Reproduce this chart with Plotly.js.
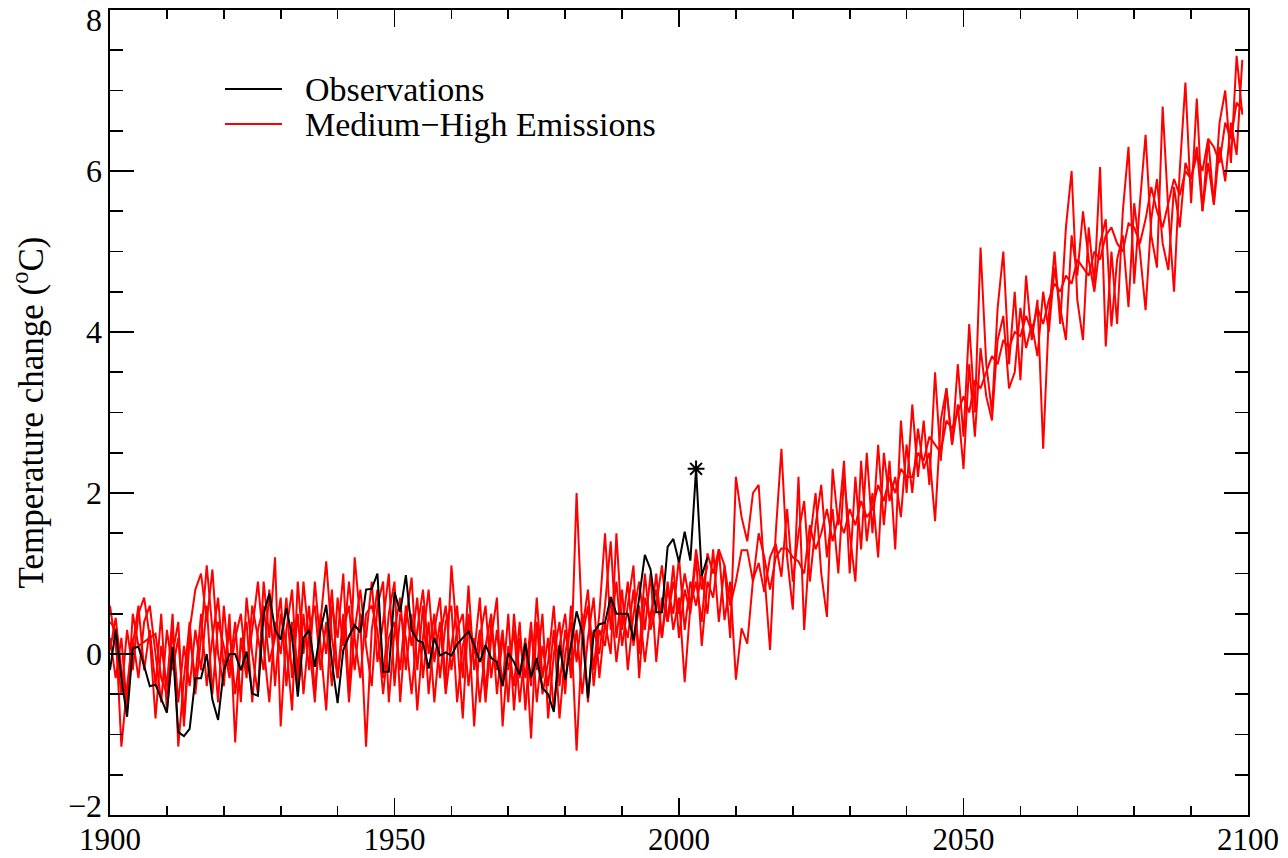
<!DOCTYPE html>
<html>
<head>
<meta charset="utf-8">
<script src="https://cdn.plot.ly/plotly-3.0.1.min.js"></script>
<style>html,body{margin:0;padding:0;background:#fff}#chart{width:1288px;height:858px}</style>
</head>
<body>
<div id="chart"></div>
<script>
// ---- DATA ----
const startYear = 1900;

const observations = [
 -0.2, 0.3, -0.3, -0.78, 0.07, 0.09, -0.15, -0.4, -0.38, -0.55,
 -0.73, 0.09, -0.97, -1.02, -0.93, -0.3, -0.3, 0.0, -0.57, -0.82,
 -0.2, 0.0, 0.0, -0.2, 0.03, -0.49, -0.52, 0.5, 0.75, 0.3,
 0.18, 0.57, 0.22, -0.53, 0.2, 0.3, -0.16, 0.3, 0.61, -0.1,
 -0.61, 0.05, 0.22, 0.36, 0.27, 0.8, 0.81, 1.0, -0.22, -0.22,
 0.77, 0.52, 0.98, 0.3, 0.17, 0.14, -0.18, 0.2, -0.02, 0.02,
 -0.02, 0.12, 0.2, 0.28, 0.11, -0.1, 0.11, -0.05, -0.1, -0.4,
 0.01, -0.1, -0.26, 0.13, -0.29, -0.05, -0.42, -0.5, -0.72, 0.11,
 -0.32, 0.1, 0.53, 0.26, -0.55, 0.27, 0.37, 0.39, 0.71, 0.5,
 0.5, 0.5, 0.17, 0.71, 1.23, 1.05, 0.52, 0.52, 1.33, 1.43,
 1.14, 1.52, 1.16, 2.3, 0.97, 1.2
];

const heatwaveYear = [2003];
const heatwaveValue = [2.3];

const memberA = [
 0.6, 0.1, -0.5, 0.3, -0.2, 0.5, 0.7, 0.2, -0.8, 0.1,
 -0.4, 0.5, -1.15, -0.3, 0.4, -0.5, 0.2, 1.1, 0.3, -0.6,
 0.6, -0.2, 0.4, -0.6, 0.7, 0.0, -0.5, 0.9, 0.2, 1.2,
 -0.9, 0.3, 0.8, -0.4, 0.5, -0.2, 0.9, 0.1, -0.7, 0.6,
 0.2, 1.0, -0.5, 1.2, 0.4, -1.15, 0.3, 0.8, -0.3, 0.5,
 0.9, -0.6, 0.4, 0.95, -0.2, 0.6, -0.5, 0.3, 0.7, -0.4,
 1.1, 0.2, -0.8, 0.5, 0.0, 0.7, -0.5, 0.4, -0.2, 0.3,
 -0.6, 0.5, -0.3, 0.2, -1.05, 0.4, -0.5, -0.1, 0.6, -0.4,
 0.3, -0.2, 2.0, 0.3, 0.8, -0.2, 0.5, 1.5, 0.3, 0.9,
 0.1, 0.6, 1.1, -0.3, 0.7, 0.4, 1.0, 0.2, 0.8, 0.5,
 1.2, 0.3, 0.9, 0.6, 1.0, 0.5, 1.3, 0.4, 1.1, 0.2,
 2.2, 1.7, 1.4, 2.0, 2.1, 1.0, 0.05, 1.5, 2.55, 1.2,
 0.55, 2.2, 0.3, 1.4, 2.0, 1.0, 0.46, 2.3, 1.6, 2.4,
 1.0, 2.2, 1.3, 2.5, 1.5, 2.6, 1.6, 2.4, 1.3, 2.9,
 2.0, 3.1, 2.2, 2.9, 2.1, 3.5, 2.4, 3.3, 2.6, 3.6,
 2.7, 4.1, 3.0, 5.05, 3.6, 3.0, 4.3, 5.0, 3.6, 4.5,
 3.4, 4.7, 3.9, 4.4, 2.55, 4.2, 5.0, 4.1, 5.3, 6.0,
 4.4, 3.9, 5.3, 4.6, 6.05, 3.82, 5.0, 4.1, 5.5, 6.3,
 4.6, 5.6, 6.45, 5.2, 4.8, 6.8, 5.5, 4.5, 6.0, 7.1,
 5.6, 6.9, 5.5, 6.4, 5.6, 6.6, 7.0, 6.1, 7.43, 6.7
];

const memberB = [
 0.4, 0.3, -1.15, -0.4, 0.2, -0.3, 0.4, 0.6, 0.0, -0.6,
 0.3, -0.2, 0.2, -0.8, 0.3, 0.8, 1.0, 0.4, 1.05, 0.0,
 -0.4, 0.5, -1.1, 0.2, -0.3, 0.6, 0.2, -0.2, 0.8, -0.4,
 0.5, 0.1, -0.7, 0.9, 0.0, 0.6, -0.5, 0.4, 1.15, 0.2,
 -0.3, 0.5, -0.6, 0.3, 0.8, 0.1, -0.4, 0.6, 0.9, -0.6,
 0.3, 0.7, -0.2, 0.5, -0.7, 0.2, 0.8, -0.1, 0.4, -0.5,
 0.1, 0.6, -0.3, 0.85, -0.2, 0.3, -0.6, 0.2, 0.7, -0.9,
 0.1, -0.4, 0.4, -0.7, 0.3, -0.2, 0.5, -0.8, 0.0, 0.4,
 -0.5, 0.6, -0.1, 0.5, -0.6, 0.3, 0.0, 0.6, 1.4, 0.2,
 0.8, -0.2, 0.5, 0.9, 0.3, 1.0, -0.1, 0.7, 0.4, 1.1,
 0.2, 0.8, 0.5, 1.2, 0.1, 0.9, 0.7, 1.3, 0.42, 0.9,
 -0.32, 0.32, 0.13, 0.92, 1.13, 0.77, 1.2, 1.37, 0.96, 1.8,
 0.9, 1.5, 1.9, 0.9, 1.6, 2.1, 1.2, 1.8, 1.0, 2.2,
 1.5, 0.9, 2.4, 1.4, 2.0, 1.2, 2.5, 1.9, 2.2, 1.7,
 2.6, 2.0, 2.8, 2.3, 2.5, 1.65, 2.9, 3.3, 2.6, 3.1,
 2.3, 3.6, 2.7, 3.8, 3.2, 2.9, 3.9, 4.2, 3.3, 3.5,
 4.3, 3.8, 4.1, 3.7, 4.5, 4.0, 4.8, 4.3, 3.9, 5.2,
 4.7, 5.5, 4.9, 4.5, 5.1, 5.4, 4.07, 4.9, 5.2, 4.31,
 5.6, 5.0, 4.27, 5.4, 5.9, 5.1, 4.77, 5.8, 5.3, 6.1,
 5.9, 6.3, 5.5, 6.1, 5.58, 6.3, 5.87, 6.6, 6.2, 7.38
];

const memberC = [
 0.2, -0.3, 0.2, -0.7, 0.5, 0.1, 0.15, 0.2, 0.25, -0.3,
 -0.5, 0.3, -0.6, 0.1, -0.4, 0.3, -0.2, 0.6, -0.5, 0.4,
 0.1, -0.3, 0.2, 0.5, -0.2, 0.3, 0.9, 0.1, -0.6, 0.4,
 0.0, 0.7, -0.3, 0.5, -0.5, 0.3, 0.6, -0.2, 0.4, -0.4,
 0.7, 0.1, 0.9, 0.2, -0.3, 0.5, 0.6, 0.3, -0.5, 0.2,
 0.4, -0.2, 0.6, 0.1, 0.7, -0.3, 0.4, -0.6, 0.2, 0.6,
 -0.2, 0.3, 0.5, -0.4, 0.2, -0.6, 0.1, 0.5, -0.5, 0.2,
 -0.2, 0.3, -0.6, 0.1, -0.4, 0.7, -0.3, 0.2, -0.7, 0.1,
 0.5, -0.3, 0.3, -0.5, 0.2, 0.7, -0.3, 0.4, 0.0, 1.5,
 0.3, 0.9, 0.1, 0.6, -0.1, 0.5, 0.8, 0.2, 0.9, 0.3,
 0.7, -0.35, 0.6, 0.9, 0.4, 1.25, 1.0, 1.3, 1.1, 0.6,
 0.9, 1.29, 1.29, 0.9, 1.5, 1.2, 0.8, 1.2, 1.31, 1.31,
 1.2, 1.15, 1.0, 1.6, 1.3, 1.5, 1.8, 1.4, 1.7, 1.5,
 1.8, 1.6, 1.9, 1.7, 1.8, 2.1, 1.9, 2.2, 2.0, 2.3,
 2.2, 2.2, 2.5, 2.4, 2.7, 2.6, 2.5, 2.9, 2.8, 3.0,
 3.2, 3.0, 3.4, 3.3, 3.5, 3.7, 3.6, 3.9, 3.8, 4.0,
 3.95, 4.2, 4.0, 4.3, 4.1, 4.4, 4.6, 4.5, 4.7, 4.6,
 4.9, 4.8, 4.7, 5.0, 4.9, 5.2, 5.3, 5.1, 5.0, 5.35,
 5.3, 5.1, 5.4, 5.8, 5.5, 5.3, 5.6, 5.9, 5.7, 6.0,
 5.9, 6.2, 6.0, 6.4, 6.3, 6.1, 6.6, 6.4, 6.85, 6.75
];

const memberD = [
 0.05, 0.45, -0.2, -0.6, 0.1, 0.6, -0.2, 0.3, -0.4, 0.5,
 -0.7, 0.0, 0.4, -0.9, 0.2, -0.3, 0.5, -0.4, 0.2, 0.7,
 -0.2, 0.3, -0.5, 0.1, 0.4, -0.6, 0.3, 0.6, -0.1, 0.2,
 0.7, -0.4, 0.4, -0.2, 0.9, 0.1, -0.6, 0.5, 0.0, 0.8,
 -0.3, 0.3, 0.6, -0.2, 0.5, 0.2, 0.9, -0.1, 0.4, 1.0,
 -0.4, 0.5, 0.2, -0.5, 0.3, 0.8, 0.0, 0.5, -0.3, 0.4,
 0.6, -0.6, 0.1, 0.4, -0.9, 0.2, 0.6, -0.3, 0.3, -0.4,
 0.5, -0.7, 0.2, -0.3, 0.4, -0.6, 0.1, -0.4, 0.3, -0.8,
 0.0, 0.4, -1.2, 0.2, 0.6, -0.4, 0.3, 0.1, 0.7, -0.1,
 0.5, 0.2, 0.8, 0.0, 1.0, 0.3, 0.6, 1.1, 0.4, 0.9,
 0.5, 1.0, 0.6, 1.3, 0.8, 1.1
];

const xTickVals = [1900, 1950, 2000, 2050, 2100];
const xTickText = ["1900", "1950", "2000", "2050", "2100"];
const yTickVals = [-2, 0, 2, 4, 6, 8];
const yTickText = ["\u22122", "0", "2", "4", "6", "8"];
const legendLabels = ["Observations", "Medium\u2212High Emissions"];
const yTitle = "Temperature change (<sup>o</sup>C)";

// ---- BUILD ----
function yearsFor(arr){ const out=[]; for(let i=0;i<arr.length;i++) out.push(startYear+i); return out; }

const red = "#ff0000";
const serif = "Liberation Serif, Times New Roman, serif";
const tickSize = 31;

const traces = [];
[memberA, memberB, memberC, memberD].forEach(m => {
  traces.push({x: yearsFor(m), y: m, type: "scatter", mode: "lines",
    line: {color: red, width: 2}, showlegend: false, hoverinfo: "skip"});
});
traces.push({x: yearsFor(observations), y: observations, type: "scatter", mode: "lines",
  line: {color: "#000000", width: 2}, showlegend: false});
traces.push({x: heatwaveYear, y: heatwaveValue, type: "scatter", mode: "markers",
  marker: {symbol: "asterisk-open", size: 14, color: "#000", line: {color: "#000", width: 2}},
  showlegend: false});

const axisCommon = {
  showgrid: false, zeroline: false, showline: true, linecolor: "#000", linewidth: 1.6,
  mirror: "ticks", ticks: "inside", tickcolor: "#000", tickwidth: 1.6,
  tickfont: {family: serif, size: tickSize, color: "#000"}, ticklabeloverflow: "allow"
};

// end labels of the y axis sit just inside the frame, as in the reference
const yEndLabels = [0, 5];
const yInnerVals = yTickVals.filter((v, i) => !yEndLabels.includes(i));
const yInnerText = yTickText.filter((t, i) => !yEndLabels.includes(i));

const annotations = [
  {xref: "paper", yref: "paper", x: (303-110)/1138, y: (815-89)/805, xanchor: "left", yanchor: "middle",
    text: legendLabels[0], showarrow: false, font: {family: serif, size: 34, color: "#000"}},
  {xref: "paper", yref: "paper", x: (303-110)/1138, y: (815-124)/805, xanchor: "left", yanchor: "middle",
    text: legendLabels[1], showarrow: false, font: {family: serif, size: 34, color: "#000"}}
];
yEndLabels.forEach(i => {
  annotations.push({xref: "paper", yref: "y", x: 0, y: yTickVals[i], xanchor: "right", yanchor: "middle",
    xshift: -6, yshift: i === 0 ? 9 : -10, text: yTickText[i], showarrow: false,
    font: {family: serif, size: 32, color: "#000"}});
});

const layout = {
  width: 1288, height: 858,
  margin: {l: 110, r: 40, t: 10, b: 43},
  paper_bgcolor: "#fff", plot_bgcolor: "#fff",
  showlegend: false,
  xaxis: Object.assign({}, axisCommon, {
    range: [1900, 2100], tickvals: xTickVals, ticktext: xTickText, ticklen: 17,
    ticklabelstandoff: -4,
    minor: {dtick: 10, tick0: 1900, ticklen: 9, ticks: "inside", tickcolor: "#000", tickwidth: 1.6, showgrid: false}
  }),
  yaxis: Object.assign({}, axisCommon, {
    range: [-2, 8], tickvals: yInnerVals, ticktext: yInnerText, ticklen: 24,
    tickfont: {family: serif, size: 32, color: "#000"},
    minor: {dtick: 0.5, tick0: 0, ticklen: 13, ticks: "inside", tickcolor: "#000", tickwidth: 1.6, showgrid: false},
    title: {text: yTitle, font: {family: serif, size: 35, color: "#000"}, standoff: 32}
  }),
  shapes: [
    {type: "line", xref: "paper", yref: "paper", x0: (225-110)/1138, x1: (282-110)/1138,
      y0: (815-89)/805, y1: (815-89)/805, line: {color: "#000", width: 2}},
    {type: "line", xref: "paper", yref: "paper", x0: (225-110)/1138, x1: (282-110)/1138,
      y0: (815-124)/805, y1: (815-124)/805, line: {color: red, width: 2}}
  ],
  annotations: annotations
};

Plotly.newPlot("chart", traces, layout, {displayModeBar: false, staticPlot: true});
</script>
</body>
</html>
